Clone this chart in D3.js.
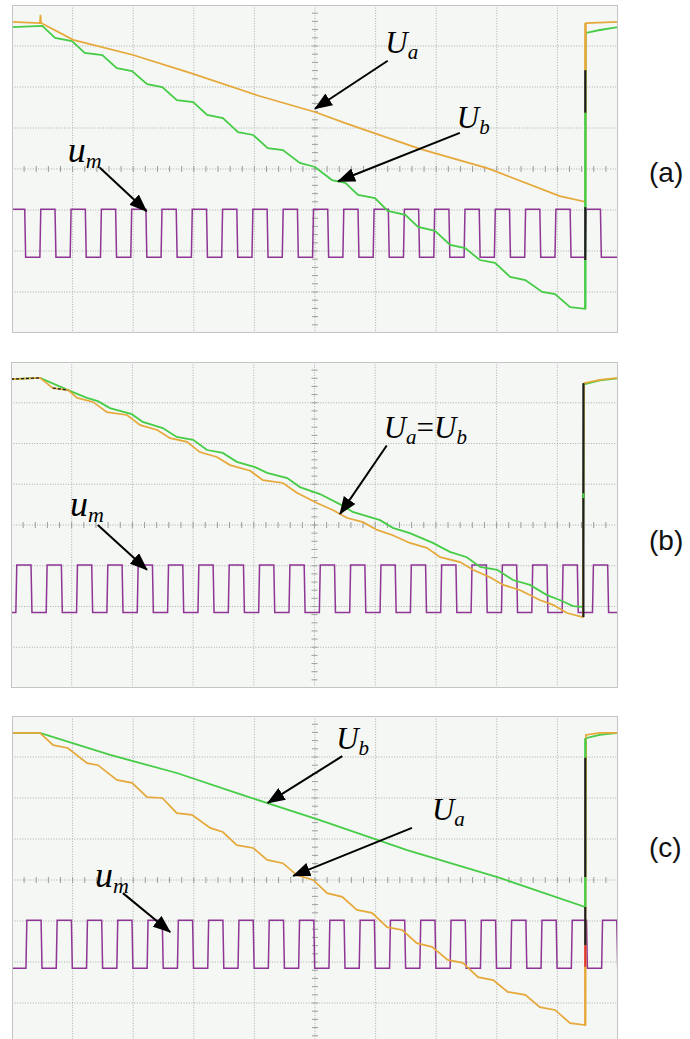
<!DOCTYPE html>
<html>
<head>
<meta charset="utf-8">
<script src="https://cdn.jsdelivr.net/npm/d3@7"></script>
<style>
  body { margin: 0; background: #fff; overflow: hidden; }
  text { font-family: "Liberation Serif", "Times New Roman", serif; }
</style>
</head>
<body>
<svg id="chart" width="690" height="1039"></svg>
<script>
// scope traces, time in divisions (0..10), voltage in divisions (-4..4)

// --- panel (a)
const uaA = [[0,3.59],[0.46,3.56],[0.47,3.76],[0.48,3.56],[1.01,3.15],[2.00,2.78],[2.99,2.32],[4.04,1.80],[5.00,1.39],
  [5.50,1.12],[6.73,0.49],[7.84,0.02],[9.04,-0.66],[9.46,-0.80],[9.47,3.56],[10,3.59]];
const ubA = [[0,3.46],[0.50,3.49],[0.71,3.20],[0.99,3.12],[1.20,2.83],[1.49,2.78],[1.73,2.46],[1.98,2.39],[2.23,2.07],
  [2.48,2.00],[2.72,1.68],[2.99,1.63],[3.22,1.32],[3.48,1.24],[3.73,0.90],[3.98,0.83],[4.22,0.51],[4.47,0.46],
  [4.75,0.15],[5.00,0.05],[5.28,-0.27],[5.50,-0.34],[5.71,-0.63],[5.99,-0.71],[6.20,-1.02],[6.49,-1.12],
  [6.70,-1.41],[6.98,-1.51],[7.23,-1.85],[7.48,-1.93],[7.72,-2.22],[7.97,-2.29],[8.22,-2.63],[8.47,-2.71],
  [8.75,-3.00],[8.96,-3.05],[9.21,-3.37],[9.46,-3.41],[9.47,3.32],[9.70,3.39],[10,3.46]];
const umRiseA = [-0.04,0.46,0.96,1.46,1.96,2.46,2.96,3.46,3.96,4.46,4.96,5.46,5.96,6.46,6.96,7.46,7.96,8.46,8.96,9.46];
const jumpA = [{t:9.46, from:3.56, to:2.41, ch:'Ua'},{t:9.46, from:2.41, to:1.37, ch:'dark'},
  {t:9.46, from:1.37, to:-0.93, ch:'Ub'},{t:9.46, from:-0.93, to:-2.22, ch:'dark'},{t:9.46, from:-2.22, to:-3.41, ch:'Ub'}];

// --- panel (b)
const uaB = [[0,3.58],[0.48,3.61],[0.69,3.36],[0.94,3.31],[1.09,3.12],[1.35,3.02],[1.58,2.77],[1.91,2.70],[2.13,2.45],
  [2.41,2.33],[2.62,2.13],[2.90,2.04],[3.11,1.79],[3.39,1.67],[3.61,1.47],[3.94,1.33],[4.15,1.10],[4.48,1.03],
  [4.71,0.79],[5.04,0.54],[5.30,0.37],[5.54,0.17],[5.80,0.07],[6.03,-0.12],[6.29,-0.25],[6.57,-0.44],[6.85,-0.56],
  [7.07,-0.79],[7.40,-0.91],[7.61,-1.10],[7.89,-1.28],[8.11,-1.47],[8.39,-1.60],[8.71,-1.84],[8.93,-1.96],
  [9.16,-2.16],[9.42,-2.26],[9.44,3.48],[9.70,3.56],[10,3.61]];
const ubB = [[0,3.58],[0.48,3.61],[0.94,3.31],[1.25,3.12],[1.43,3.04],[1.63,2.87],[1.99,2.72],[2.17,2.53],[2.50,2.38],
  [2.73,2.16],[3.00,2.09],[3.23,1.84],[3.49,1.77],[3.72,1.55],[4.02,1.42],[4.22,1.28],[4.55,1.15],[4.76,0.93],
  [5.09,0.76],[5.47,0.47],[5.63,0.32],[6.08,0.12],[6.29,-0.07],[6.57,-0.20],[6.95,-0.44],[7.23,-0.66],[7.51,-0.79],
  [7.73,-1.03],[8.01,-1.10],[8.27,-1.35],[8.55,-1.47],[8.83,-1.72],[9.04,-1.84],[9.26,-1.99],[9.42,-2.01],
  [9.44,3.45],[9.70,3.55],[10,3.60]];
const umRiseB = [0.08,0.58,1.08,1.58,2.08,2.58,3.08,3.58,4.08,4.58,5.08,5.58,6.08,6.58,7.08,7.58,8.08,8.58,9.08,9.58];
const jumpB = [{t:9.43, from:-2.26, to:3.48, ch:'dark'},{t:9.43, from:0.78, to:0.66, ch:'Ub'}];
const overlapB = [[[0,3.58],[0.48,3.61]],[[0.69,3.36],[0.94,3.31]]];

// --- panel (c)
const uaC = [[0,3.59],[0.46,3.59],[0.68,3.29],[0.92,3.22],[1.24,2.85],[1.42,2.80],[1.73,2.44],[1.98,2.37],[2.23,2.02],
  [2.48,2.00],[2.72,1.63],[2.97,1.59],[3.27,1.27],[3.48,1.17],[3.71,0.85],[3.98,0.78],[4.21,0.49],[4.47,0.41],
  [4.70,0.12],[4.97,0.00],[5.20,-0.32],[5.45,-0.41],[5.69,-0.73],[5.94,-0.80],[6.19,-1.15],[6.44,-1.22],
  [6.68,-1.54],[6.93,-1.63],[7.19,-1.95],[7.44,-2.02],[7.69,-2.37],[7.94,-2.44],[8.18,-2.73],[8.47,-2.80],
  [8.71,-3.10],[8.96,-3.17],[9.21,-3.49],[9.46,-3.54],[9.47,3.54],[9.70,3.59],[10,3.59]];
const ubC = [[0,3.59],[0.46,3.59],[1.62,3.05],[2.72,2.61],[3.81,2.07],[5.08,1.46],[6.52,0.73],[8.05,0.05],[9.46,-0.66],
  [9.47,3.46],[9.70,3.54],[10,3.59]];
const umRiseC = [0.23,0.73,1.23,1.73,2.23,2.73,3.23,3.73,4.23,4.73,5.23,5.73,6.23,6.73,7.23,7.73,8.23,8.73,9.23,9.73];
const jumpC = [{t:9.46, from:3.46, to:2.98, ch:'Ub'},{t:9.46, from:2.98, to:0.07, ch:'dark'},
  {t:9.46, from:0.07, to:-0.66, ch:'Ub'},{t:9.46, from:-0.66, to:-1.59, ch:'dark'},
  {t:9.46, from:-1.59, to:-2.12, ch:'red'},{t:9.46, from:-2.12, to:-3.54, ch:'Ua'}];

// u_m square wave levels and pulse width (divisions)
const umHigh = -0.98, umLow = -2.15, umWidth = 0.25;

const colors = { Ua: '#e6a83a', Ub: '#46cc46', um: '#8e3595', dark: '#1e1e1e', red: '#e23a2a' };

// layout of the three screenshots, and of their annotations
const panels = [
  { key: 'a', left: 12, right: 618, top: 5, bottom: 333, ua: uaA, ub: ubA, rises: umRiseA, jump: jumpA, overlap: [],
    tag: { text: '(a)', x: 649, y: 182 },
    notes: [
      { parts: [['U',0],['a',1]], at: [6.16, 2.83], from: [6.2, 2.64], tip: [5.0, 1.47] },
      { parts: [['U',0],['b',1]], at: [7.34, 1.0], from: [7.39, 0.88], tip: [5.38, -0.3] },
      { parts: [['u',0],['m',1]], at: [0.92, 0.16], from: [1.45, 0.03], tip: [2.22, -1.03], small: true }
    ] },
  { key: 'b', left: 11, right: 618, top: 362, bottom: 688, ua: uaB, ub: ubB, rises: umRiseB, jump: jumpB, overlap: overlapB,
    tag: { text: '(b)', x: 649, y: 550 },
    notes: [
      { parts: [['U',0],['a',1],['=',2],['U',0],['b',1]], at: [6.14, 2.13], from: [6.19, 1.95], tip: [5.42, 0.27] },
      { parts: [['u',0],['m',1]], at: [0.97, 0.22], from: [1.43, 0.0], tip: [2.24, -1.1], small: true }
    ] },
  { key: 'c', left: 12, right: 618, top: 716, bottom: 1044, ua: uaC, ub: ubC, rises: umRiseC, jump: jumpC, overlap: [],
    tag: { text: '(c)', x: 649, y: 857 },
    notes: [
      { parts: [['U',0],['b',1]], at: [5.35, 3.2], from: [5.45, 3.02], tip: [4.22, 1.88] },
      { parts: [['U',0],['a',1]], at: [6.93, 1.47], from: [6.6, 1.27], tip: [4.64, 0.1] },
      { parts: [['u',0],['m',1]], at: [1.37, -0.18], from: [1.83, -0.32], tip: [2.61, -1.27], small: true }
    ] }
];

const svg = d3.select('#chart');
const defs = svg.append('defs');
defs.append('marker')
  .attr('id', 'head')
  .attr('markerUnits', 'userSpaceOnUse')
  .attr('viewBox', '0 0 18 14')
  .attr('refX', 17).attr('refY', 7)
  .attr('markerWidth', 18).attr('markerHeight', 14)
  .attr('orient', 'auto')
  .append('path')
  .attr('d', 'M0,0 L18,7 L0,14 Z')
  .attr('fill', '#000');

function pulsePoints(rises) {
  let pts = [[-1, umLow]];
  rises.forEach(r => {
    pts.push([r, umLow], [r + 0.015, umHigh], [r + umWidth, umHigh], [r + umWidth + 0.015, umLow]);
  });
  pts.push([11, umLow]);
  return pts;
}

function drawPanel(p) {
  const x = d3.scaleLinear().domain([0, 10]).range([p.left, p.right]);
  const y = d3.scaleLinear().domain([-4, 4]).range([p.bottom, p.top]);
  const g = svg.append('g');

  defs.append('clipPath').attr('id', 'clip-' + p.key)
    .append('rect')
    .attr('x', p.left).attr('y', p.top)
    .attr('width', p.right - p.left).attr('height', p.bottom - p.top);

  g.append('rect')
    .attr('x', p.left).attr('y', p.top)
    .attr('width', p.right - p.left).attr('height', p.bottom - p.top)
    .attr('fill', '#f4f7f3');

  // dotted graticule
  g.selectAll('.vgrid')
    .data(d3.range(1, 10))
    .enter().append('line')
    .attr('class', 'vgrid')
    .attr('x1', d => x(d)).attr('x2', d => x(d))
    .attr('y1', p.top).attr('y2', p.bottom)
    .attr('stroke', '#adadad').attr('stroke-width', 1)
    .attr('stroke-dasharray', '1,1.6');
  g.selectAll('.hgrid')
    .data(d3.range(-3, 4))
    .enter().append('line')
    .attr('class', 'hgrid')
    .attr('x1', p.left).attr('x2', p.right)
    .attr('y1', d => y(d)).attr('y2', d => y(d))
    .attr('stroke', '#adadad').attr('stroke-width', 1)
    .attr('stroke-dasharray', '1,1.6');

  // minor ticks on the centre axes
  const minorT = d3.range(0, 50).map(i => i * 0.2).filter(d => d > 0);
  g.selectAll('.tickx')
    .data(minorT)
    .enter().append('line')
    .attr('x1', d => x(d)).attr('x2', d => x(d))
    .attr('y1', y(0) - 3).attr('y2', y(0) + 3)
    .attr('stroke', '#9d9d9d').attr('stroke-width', 1);
  const minorV = d3.range(0, 40).map(i => -4 + i * 0.2).filter(d => d > -4);
  g.selectAll('.ticky')
    .data(minorV)
    .enter().append('line')
    .attr('x1', x(5) - 3).attr('x2', x(5) + 3)
    .attr('y1', d => y(d)).attr('y2', d => y(d))
    .attr('stroke', '#9d9d9d').attr('stroke-width', 1);

  const line = d3.line().x(d => x(d[0])).y(d => y(d[1]));
  const traces = g.append('g').attr('clip-path', 'url(#clip-' + p.key + ')');

  traces.append('path')
    .datum(pulsePoints(p.rises))
    .attr('d', line)
    .attr('fill', 'none')
    .attr('stroke', colors.um)
    .attr('stroke-width', 1.5);

  traces.append('path')
    .datum(p.ub)
    .attr('d', line)
    .attr('fill', 'none')
    .attr('stroke', colors.Ub)
    .attr('stroke-width', 1.8);

  traces.append('path')
    .datum(p.ua)
    .attr('d', line)
    .attr('fill', 'none')
    .attr('stroke', colors.Ua)
    .attr('stroke-width', 1.7);

  p.overlap.forEach(seg => {
    traces.append('path')
      .datum(seg)
      .attr('d', line)
      .attr('fill', 'none')
      .attr('stroke', colors.dark)
      .attr('stroke-width', 1.3)
      .attr('stroke-dasharray', '3,2');
  });

  traces.selectAll('.jump')
    .data(p.jump)
    .enter().append('line')
    .attr('x1', d => x(d.t)).attr('x2', d => x(d.t))
    .attr('y1', d => y(d.from)).attr('y2', d => y(d.to))
    .attr('stroke', d => colors[d.ch])
    .attr('stroke-width', 2.2);

  g.append('rect')
    .attr('x', p.left + 0.5).attr('y', p.top + 0.5)
    .attr('width', p.right - p.left - 1).attr('height', p.bottom - p.top - 1)
    .attr('fill', 'none')
    .attr('stroke', '#c4c4c4');

  // annotations
  p.notes.forEach(n => {
    g.append('line')
      .attr('x1', x(n.from[0])).attr('y1', y(n.from[1]))
      .attr('x2', x(n.tip[0])).attr('y2', y(n.tip[1]))
      .attr('stroke', '#000').attr('stroke-width', 2)
      .attr('marker-end', 'url(#head)');

    const big = n.small ? 36 : 31;
    const sub = n.small ? 22 : 21;
    const t = g.append('text')
      .attr('x', x(n.at[0])).attr('y', y(n.at[1]));
    let shifted = false;
    n.parts.forEach(([s, kind]) => {
      const ts = t.append('tspan').text(s);
      if (kind === 1) {
        ts.attr('font-size', sub).attr('font-style', 'italic').attr('dy', shifted ? 0 : 6);
        shifted = true;
      } else {
        ts.attr('font-size', big)
          .attr('font-style', kind === 2 ? 'normal' : 'italic')
          .attr('dy', shifted ? -6 : 0);
        shifted = false;
      }
    });
  });

  svg.append('text')
    .attr('x', p.tag.x).attr('y', p.tag.y)
    .style('font-family', '"Liberation Sans", Arial, sans-serif')
    .attr('font-size', 28)
    .attr('fill', '#111')
    .text(p.tag.text);
}

panels.forEach(drawPanel);
</script>
</body>
</html>
